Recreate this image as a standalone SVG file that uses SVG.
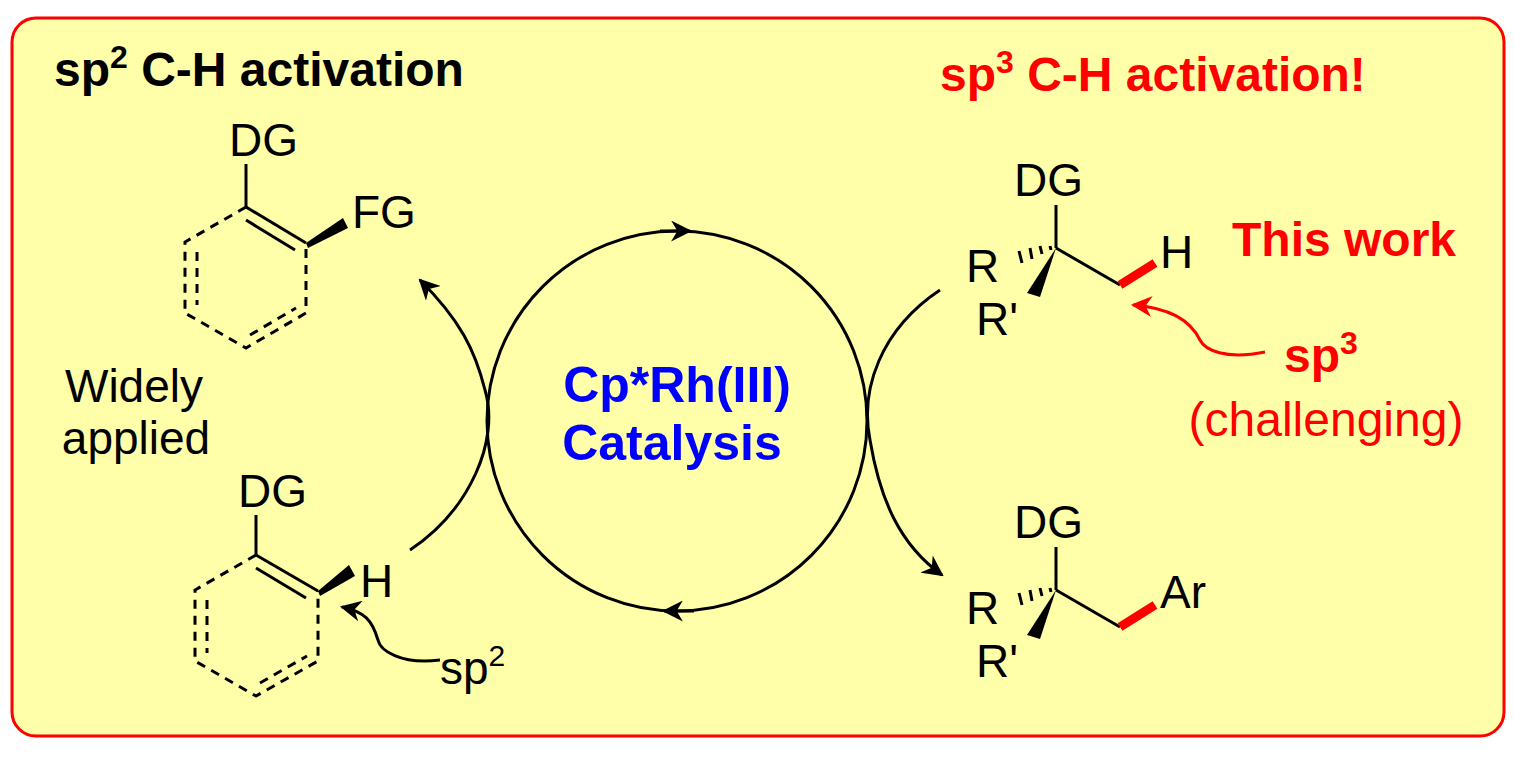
<svg xmlns="http://www.w3.org/2000/svg" width="1514" height="757" viewBox="0 0 1514 757">
<defs>
<style>
text{font-family:"Liberation Sans",Arial,sans-serif;}
.t{font-size:46px;fill:#000}
.b{stroke:#000;stroke-width:3;fill:none}
.d{stroke:#000;stroke-width:3;fill:none;stroke-dasharray:9,7}
.r{fill:#f00;font-weight:bold}
</style>
<marker id="ah" viewBox="0 0 10 10" refX="9" refY="5" markerWidth="7" markerHeight="7" orient="auto"><path d="M0,0L10,5L0,10L3,5z" fill="#000"/></marker>
<marker id="ahr" viewBox="0 0 10 10" refX="9" refY="5" markerWidth="7" markerHeight="7" orient="auto"><path d="M0,0L10,5L0,10L3,5z" fill="#f00"/></marker>
</defs>
<rect x="12" y="18" width="1492" height="718" rx="24" fill="#FFFFAA" stroke="#f00" stroke-width="3"/>
<text x="54" y="86" font-size="48" font-weight="bold">sp<tspan font-size="32" dy="-18">2</tspan><tspan dy="18"> C-H activation</tspan></text>
<text x="940" y="91" font-size="48" class="r">sp<tspan font-size="32" dy="-18">3</tspan><tspan dy="18"> C-H activation!</tspan></text>
<g id="ring-top">
<text class="t" x="229" y="156">DG</text>
<line class="b" x1="246" y1="164" x2="246" y2="207"/>
<line class="b" x1="246" y1="207" x2="306" y2="243"/>
<line class="b" x1="246" y1="220" x2="295" y2="250"/>
<polygon points="306,243 343,218 348,228 308,248" fill="#000"/>
<text class="t" x="352" y="228">FG</text>
<path class="d" d="M246,207L185,242L185,313L246,348L306,313L306,243"/>
<line class="d" x1="197" y1="252" x2="197" y2="305"/>
<line class="d" x1="250" y1="335" x2="296" y2="308"/>
</g>
<g id="ring-bottom">
<text class="t" x="238" y="507">DG</text>
<line class="b" x1="256" y1="515" x2="256" y2="555"/>
<line class="b" x1="256" y1="555" x2="318" y2="591"/>
<line class="b" x1="256" y1="568" x2="306" y2="598"/>
<polygon points="318,591 349,565 355,576 320,596" fill="#000"/>
<text class="t" x="360" y="597">H</text>
<path class="d" d="M256,555L195,590L195,661L256,696L318,661L318,591"/>
<line class="d" x1="207" y1="600" x2="207" y2="653"/>
<line class="d" x1="260" y1="683" x2="307" y2="656"/>
</g>
<g id="labels-left">
<text class="t" x="134" y="402" text-anchor="middle" font-size="48">Widely</text>
<text class="t" x="136" y="454" text-anchor="middle" font-size="48">applied</text>
<text class="t" x="440" y="684">sp<tspan font-size="30" dy="-18">2</tspan></text>
</g>
<g id="center">
<text x="677" y="402" font-size="50" font-weight="bold" fill="#0000ff" text-anchor="middle">Cp*Rh(III)</text>
<text x="672" y="460" font-size="50" font-weight="bold" fill="#0000ff" text-anchor="middle">Catalysis</text>
</g>
<g id="mol-top">
<text class="t" x="1014" y="196">DG</text>
<line class="b" x1="1056" y1="205" x2="1056" y2="248"/>
<line class="b" x1="1056" y1="248" x2="1120" y2="285"/>
<line x1="1120" y1="285" x2="1155" y2="263" stroke="#f00" stroke-width="9"/>
<text class="t" x="1160" y="268">H</text>
<text class="t" x="966" y="282">R</text>
<path d="M1051,250L1050,246M1042,254L1040,246M1032,259L1030,248M1022,263L1019,251" stroke="#000" stroke-width="3"/>
<polygon points="1056,248 1027,293 1040,297" fill="#000"/>
<text class="t" x="976" y="335">R'</text>
</g>
<g id="mol-bottom">
<text class="t" x="1014" y="538">DG</text>
<line class="b" x1="1056" y1="547" x2="1056" y2="590"/>
<line class="b" x1="1056" y1="590" x2="1120" y2="627"/>
<line x1="1120" y1="627" x2="1155" y2="605" stroke="#f00" stroke-width="9"/>
<text class="t" x="1160" y="608">Ar</text>
<text class="t" x="966" y="624">R</text>
<path d="M1051,592L1050,588M1042,596L1040,588M1032,601L1030,590M1022,605L1019,593" stroke="#000" stroke-width="3"/>
<polygon points="1056,590 1027,635 1040,639" fill="#000"/>
<text class="t" x="976" y="677">R'</text>
</g>
<g id="labels-right">
<text x="1232" y="256" font-size="48" class="r">This work</text>
<text x="1284" y="372" font-size="48" class="r">sp<tspan font-size="32" dy="-18">3</tspan></text>
<text x="1326" y="436" font-size="48" fill="#f00" text-anchor="middle">(challenging)</text>
</g>
<g id="connectors">
<circle cx="677" cy="421" r="190" class="b"/>
<path d="M660,231L690,231" class="b" marker-end="url(#ah)"/>
<path d="M694,611L664,611" class="b" marker-end="url(#ah)"/>
<path d="M410,550C470,510 500,440 485,390C475,350 460,320 420,280" class="b" marker-end="url(#ah)"/>
<path d="M940,290C880,330 860,390 870,440C880,500 900,545 942,575" class="b" marker-end="url(#ah)"/>
<path d="M440,660C400,665 380,650 378,640C372,620 365,612 342,607" class="b" marker-end="url(#ah)"/>
<path d="M1265,352C1225,360 1205,350 1200,340C1190,320 1170,308 1133,305" fill="none" stroke="#f00" stroke-width="3" marker-end="url(#ahr)"/>
</g>
</svg>
